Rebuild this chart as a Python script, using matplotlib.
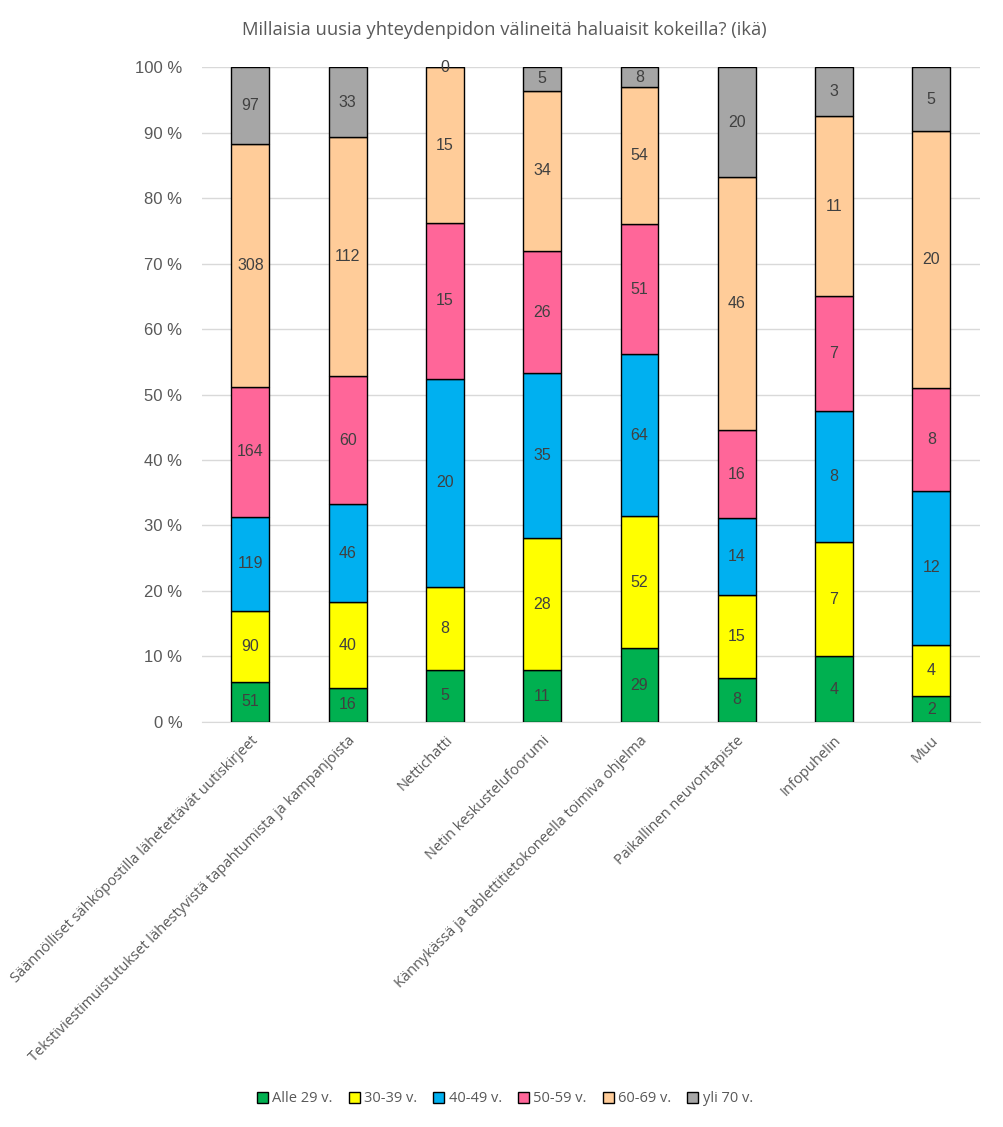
import matplotlib
matplotlib.use("Agg")
import matplotlib.pyplot as plt
import numpy as np

categories = [
    "Säännölliset sähköpostilla lähetettävät uutiskirjeet",
    "Tekstiviestimuistutukset lähestyvistä tapahtumista ja kampanjoista",
    "Nettichatti",
    "Netin keskustelufoorumi",
    "Kännykässä ja tablettitietokoneella toimiva ohjelma",
    "Paikallinen neuvontapiste",
    "Infopuhelin",
    "Muu",
]
series_names = ["Alle 29 v.", "30-39 v.", "40-49 v.", "50-59 v.", "60-69 v.", "yli 70 v."]
alle29 = [51, 16, 5, 11, 29, 8, 4, 2]
v30_39 = [90, 40, 8, 28, 52, 15, 7, 4]
v40_49 = [119, 46, 20, 35, 64, 14, 8, 12]
v50_59 = [164, 60, 15, 26, 51, 16, 7, 8]
v60_69 = [308, 112, 15, 34, 54, 46, 11, 20]
yli70 = [97, 33, 0, 5, 8, 20, 3, 5]
colors = ["#00B050", "#FFFF00", "#00B0F0", "#FF6699", "#FFCC99", "#A6A6A6"]
yticks = [0, 10, 20, 30, 40, 50, 60, 70, 80, 90, 100]
ytick_labels = [f"{t} %" for t in yticks]
title = "Millaisia uusia yhteydenpidon välineitä haluaisit kokeilla? (ikä)"

data = np.array([alle29, v30_39, v40_49, v50_59, v60_69, yli70], dtype=float)
totals = data.sum(axis=0)
pct = data / totals * 100

fig = plt.figure(figsize=(10.04, 11.27), dpi=100)
ax = fig.add_axes([0.201, 0.3594, 0.775, 0.5811])
x = np.arange(len(categories))
bottom = np.zeros(len(categories))
for i, name in enumerate(series_names):
    bars = ax.bar(x, pct[i], 0.39, bottom=bottom, color=colors[i], edgecolor="black",
                  linewidth=1.0, label=name, zorder=3)
    for j, b in enumerate(bars):
        yc = bottom[j] + pct[i][j] / 2
        ax.text(x[j], yc, f"{int(data[i][j])}", ha="center", va="center",
                fontsize=11.5, color="#404040", family="Liberation Sans", zorder=4)
    bottom += pct[i]

ax.set_xlim(-0.5, len(categories) - 0.5)
ax.set_ylim(0, 100)
ax.set_yticks(yticks)
ax.set_yticklabels(ytick_labels, fontsize=12, color="#595959", family="Liberation Sans")
ax.yaxis.grid(True, color="#D9D9D9", linewidth=1, zorder=0)
ax.set_xticks(x)
ax.set_xticklabels(categories, rotation=45, ha="right", rotation_mode="anchor",
                   fontsize=10.5, color="#595959", family="Open Sans")
ax.tick_params(axis="both", length=0)
ax.tick_params(axis="y", pad=14)
ax.tick_params(axis="x", pad=8)
for s in ["top", "right", "left"]:
    ax.spines[s].set_visible(False)
ax.spines["bottom"].set_color("#D9D9D9")

fig.text(0.502, 0.973, title, ha="center", va="center", fontsize=13.2, color="#595959",
         family="Open Sans")

leg = fig.legend(loc="center", bbox_to_anchor=(0.503, 0.025), ncol=6, frameon=False,
                 handlelength=0.75, handleheight=0.75, handletextpad=0.3,
                 columnspacing=1.1, prop={"family": "Open Sans", "size": 10.5})
for t in leg.get_texts():
    t.set_color("#595959")

fig.savefig("out.png", dpi=100)
